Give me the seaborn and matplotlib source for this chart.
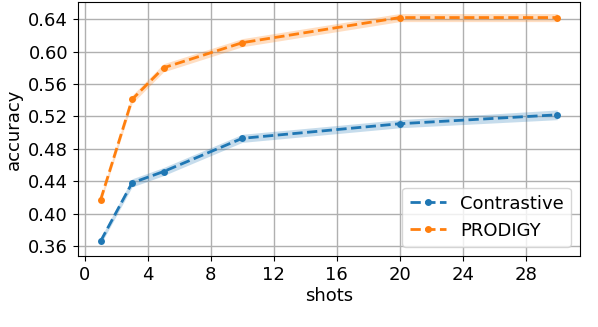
import numpy as np
import pandas as pd
import matplotlib
matplotlib.use("Agg")
import matplotlib.pyplot as plt
import seaborn as sns

# shots and mean accuracy
shots = [1, 3, 5, 10, 20, 30]
contrastive = [0.366, 0.438, 0.452, 0.493, 0.511, 0.522]
prodigy = [0.417, 0.541, 0.580, 0.611, 0.642, 0.642]
# half-width of the shaded band
contrastive_err = [0.004, 0.005, 0.005, 0.005, 0.005, 0.006]
prodigy_err = [0.004, 0.005, 0.005, 0.005, 0.005, 0.005]

methods = ["Contrastive", "PRODIGY"]
colors = ["#1f77b4", "#ff7f0e"]

df = pd.DataFrame({
    "shots": shots * 2,
    "accuracy": contrastive + prodigy,
    "err": contrastive_err + prodigy_err,
    "method": ["Contrastive"] * len(shots) + ["PRODIGY"] * len(shots),
})

plt.rcParams["font.size"] = 13
fig, ax = plt.subplots(figsize=(5.98, 3.27), dpi=100)

sns.lineplot(data=df, x="shots", y="accuracy", hue="method", hue_order=methods,
             palette=colors, linestyle="--", marker="o", markersize=5,
             markeredgewidth=0, linewidth=2, ax=ax)

for m, c in zip(methods, colors):
    sub = df[df["method"] == m]
    ax.fill_between(sub["shots"], sub["accuracy"] - sub["err"],
                    sub["accuracy"] + sub["err"], color=c, alpha=0.25, linewidth=0)

ax.set_xticks(range(0, 29, 4))
ax.set_yticks(np.arange(0.36, 0.641, 0.04))
ax.yaxis.set_major_formatter(matplotlib.ticker.FormatStrFormatter("%.2f"))
ax.grid(True, color="#b0b0b0", linewidth=1)
ax.set_axisbelow(True)
ax.set_xlabel("shots", labelpad=2)
ax.set_ylabel("accuracy")

# rebuild legend with dashed lines and markers
handles, labels = ax.get_legend_handles_labels()
for h in handles:
    h.set_linestyle("--")
    h.set_marker("o")
ax.legend(handles, labels, loc="lower right", fontsize=13)

fig.subplots_adjust(left=0.130, right=0.970, top=0.994, bottom=0.217)
plt.savefig("out.png", dpi=100)
